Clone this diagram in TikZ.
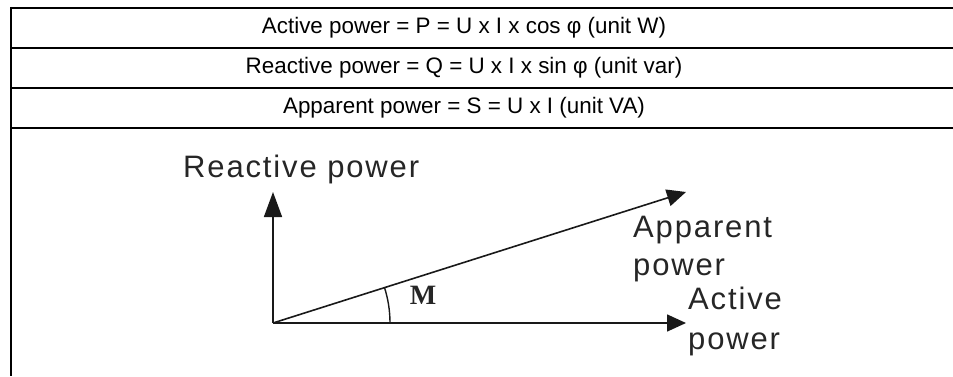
\documentclass[tikz,border=0pt]{standalone}
\usepackage{fontspec}
\setmainfont{Liberation Sans}
\newfontfamily\spacedsans[LetterSpace=6]{Liberation Sans}
\newfontfamily\serifm{Liberation Serif}
\usetikzlibrary{arrows.meta}
\begin{document}
\begin{tikzpicture}[x=1pt,y=1pt,
  rule/.style={line width=2pt,black},
  vec/.style={line width=1.6pt,black!90,-{Triangle[length=19pt,width=17pt]}},
  rowtext/.style={font=\fontsize{22.4}{26}\selectfont,inner sep=0pt},
  axislabel/.style={font=\spacedsans\fontsize{31}{38}\selectfont,text=black!85,inner sep=0pt,align=left,anchor=north west}]
\useasboundingbox (0,0) rectangle (953,376);
% table
\coordinate (l0) at (11,368); \coordinate (r0) at (953,368);
\coordinate (l1) at (11,328); \coordinate (r1) at (953,328);
\coordinate (l2) at (11,288); \coordinate (r2) at (953,288);
\coordinate (l3) at (11,248); \coordinate (r3) at (953,248);
\coordinate (lb) at (11,0);
\draw[rule] (l0) -- (r0);
\draw[rule] (l1) -- (r1);
\draw[rule] (l2) -- (r2);
\draw[rule] (l3) -- (r3);
\draw[rule] ([yshift=1pt]l0) -- (lb);
\node[rowtext] (t1) at (464,348) {Active power = P = U x I x cos φ (unit W)};
\node[rowtext] (t2) at (464,308) {Reactive power = Q = U x I x sin φ (unit var)};
\node[rowtext] (t3) at (464,268) {Apparent power = S = U x I (unit VA)};
% phasor diagram
\coordinate (O) at (273,53);
\coordinate (Q) at (273,184);
\coordinate (P) at (686,53);
\coordinate (S) at (686,184);
\draw[vec,-{Triangle[length=25pt,width=18pt]}] (O) -- (Q);
\draw[vec] (O) -- (P);
\draw[vec] (O) -- (S);
\draw[line width=1.4pt,black!90] ([xshift=117pt]O) arc[start angle=0,end angle=17.6,radius=117pt];
\node[font=\serifm\bfseries\fontsize{28}{32}\selectfont,text=black!85] (M) at (423,81) {M};
\node[axislabel] (lq) at (183,221) {Reactive power};
\node[axislabel] (ls) at (633,160) {Apparent\\power};
\node[axislabel,font=\spacedsans\fontsize{31}{40}\selectfont] (lp) at (688,89) {Active\\power};
\end{tikzpicture}
\end{document}
